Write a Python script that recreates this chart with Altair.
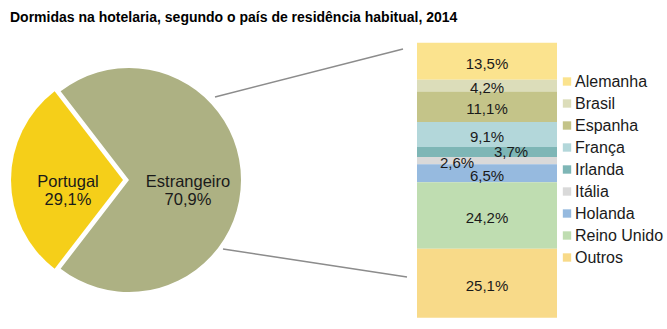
import math
import altair as alt
import pandas as pd

title_text = "Dormidas na hotelaria, segundo o país de residência habitual, 2014"

pie_parts = ["Portugal", "Estrangeiro"]
pie_shares = [29.1, 70.9]
pie_colors = ["#F5CF19", "#ADB183"]

countries = ["Alemanha", "Brasil", "Espanha", "França", "Irlanda",
             "Itália", "Holanda", "Reino Unido", "Outros"]
shares = [13.5, 4.2, 11.1, 9.1, 3.7, 2.6, 6.5, 24.2, 25.1]
colors = ["#FBE38E", "#DCDDBA", "#C4C489", "#B3D7DA", "#7EB6B6",
          "#D9D9D9", "#96BADF", "#BFDDB1", "#F8DA89"]

FONT = "Liberation Sans"
TXT = "#1a1a1a"

bar_df = pd.DataFrame({"pais": countries, "valor": shares, "ordem": list(range(len(countries)))})
pie_df = pd.DataFrame({"parte": pie_parts, "valor": pie_shares, "ordem": [0, 1]})

label_expr = "replace(format(datum.valor, '.1f'), '.', ',') + '%'"

# ---------- bar of pie ----------
yscale = alt.Scale(domain=[0, 100], range=[317.7, 42.7])
bar_base = alt.Chart(bar_df).transform_stack(
    stack="valor", as_=["y0", "y1"], groupby=[],
    sort=[alt.SortField("ordem", order="descending")]
).transform_calculate(mid="(datum.y0 + datum.y1) / 2", rotulo=label_expr)

bars = bar_base.mark_bar().encode(
    x=alt.value(417), x2=alt.value(557),
    y=alt.Y("y0:Q", scale=yscale, axis=None), y2="y1:Q",
    color=alt.Color("pais:N", scale=alt.Scale(domain=countries, range=colors),
                    legend=alt.Legend(title=None, orient="none", legendX=559, legendY=73.5,
                                      symbolType="square", symbolSize=70, symbolStrokeWidth=0,
                                      labelFontSize=16, labelFont=FONT, labelColor=TXT,
                                      rowPadding=6, labelOffset=0, padding=0)),
)

def bar_text(cond, dx=0, dy=0):
    return bar_base.transform_filter(cond).mark_text(
        fontSize=15, font=FONT, color=TXT, dx=dx, dy=dy
    ).encode(x=alt.value(487), y=alt.Y("mid:Q", scale=yscale, axis=None), text="rotulo:N")

txt_main = bar_text("datum.pais != 'Irlanda' && datum.pais != 'Itália'", dy=2.5)
txt_irl = bar_text("datum.pais == 'Irlanda'", dx=24, dy=0)
txt_ita = bar_text("datum.pais == 'Itália'", dx=-30, dy=2.5)

# ---------- pie ----------
a0 = 1.5 * math.pi - math.pi * pie_shares[0] / 100
tscale = alt.Scale(domain=[0, 100], range=[a0, a0 + 2 * math.pi])
pie_base = alt.Chart(pie_df).transform_stack(
    stack="valor", as_=["t0", "t1"], groupby=[], sort=[alt.SortField("ordem")]
).transform_calculate(
    tm="(datum.t0 + datum.t1) / 2",
    rotulo="datum.parte + '\\n' + " + label_expr,
)

def pie_layers(part, color, cx, r_label):
    b = pie_base.transform_filter(f"datum.parte == '{part}'")
    arc = b.mark_arc(outerRadius=112, color=color).encode(
        theta=alt.Theta("t0:Q", scale=tscale), theta2="t1:Q",
        x=alt.value(cx), y=alt.value(180),
    )
    txt = b.mark_text(radius=r_label, lineBreak="\n", fontSize=16.5, lineHeight=18,
                      font=FONT, color=TXT).encode(
        theta=alt.Theta("tm:Q", scale=tscale), text="rotulo:N",
        x=alt.value(cx), y=alt.value(182),
    )
    return arc, txt

arc_pt, txt_pt = pie_layers("Portugal", pie_colors[0], 123, 55)
arc_es, txt_es = pie_layers("Estrangeiro", pie_colors[1], 129, 59)

# ---------- connectors ----------
conn = alt.Chart(pd.DataFrame({"k": [0]}))
line_top = conn.mark_rule(color="#8c8c8c", strokeWidth=1.5).encode(
    x=alt.value(215), y=alt.value(97), x2=alt.value(403), y2=alt.value(49))
line_bot = conn.mark_rule(color="#8c8c8c", strokeWidth=1.5).encode(
    x=alt.value(223), y=alt.value(249), x2=alt.value(407), y2=alt.value(277))

title = conn.mark_text(text=title_text, align="left", baseline="alphabetic",
                       fontWeight="bold", fontSize=14, font=FONT,
                       color="#000").encode(x=alt.value(10), y=alt.value(22))

chart = alt.layer(
    line_top, line_bot, arc_pt, arc_es, txt_pt, txt_es,
    bars, txt_main, txt_irl, txt_ita, title
).properties(width=667, height=329, autosize="none", padding=0).configure_view(stroke=None)

chart.save("out.html", embed_options={"renderer": "svg", "actions": False})
